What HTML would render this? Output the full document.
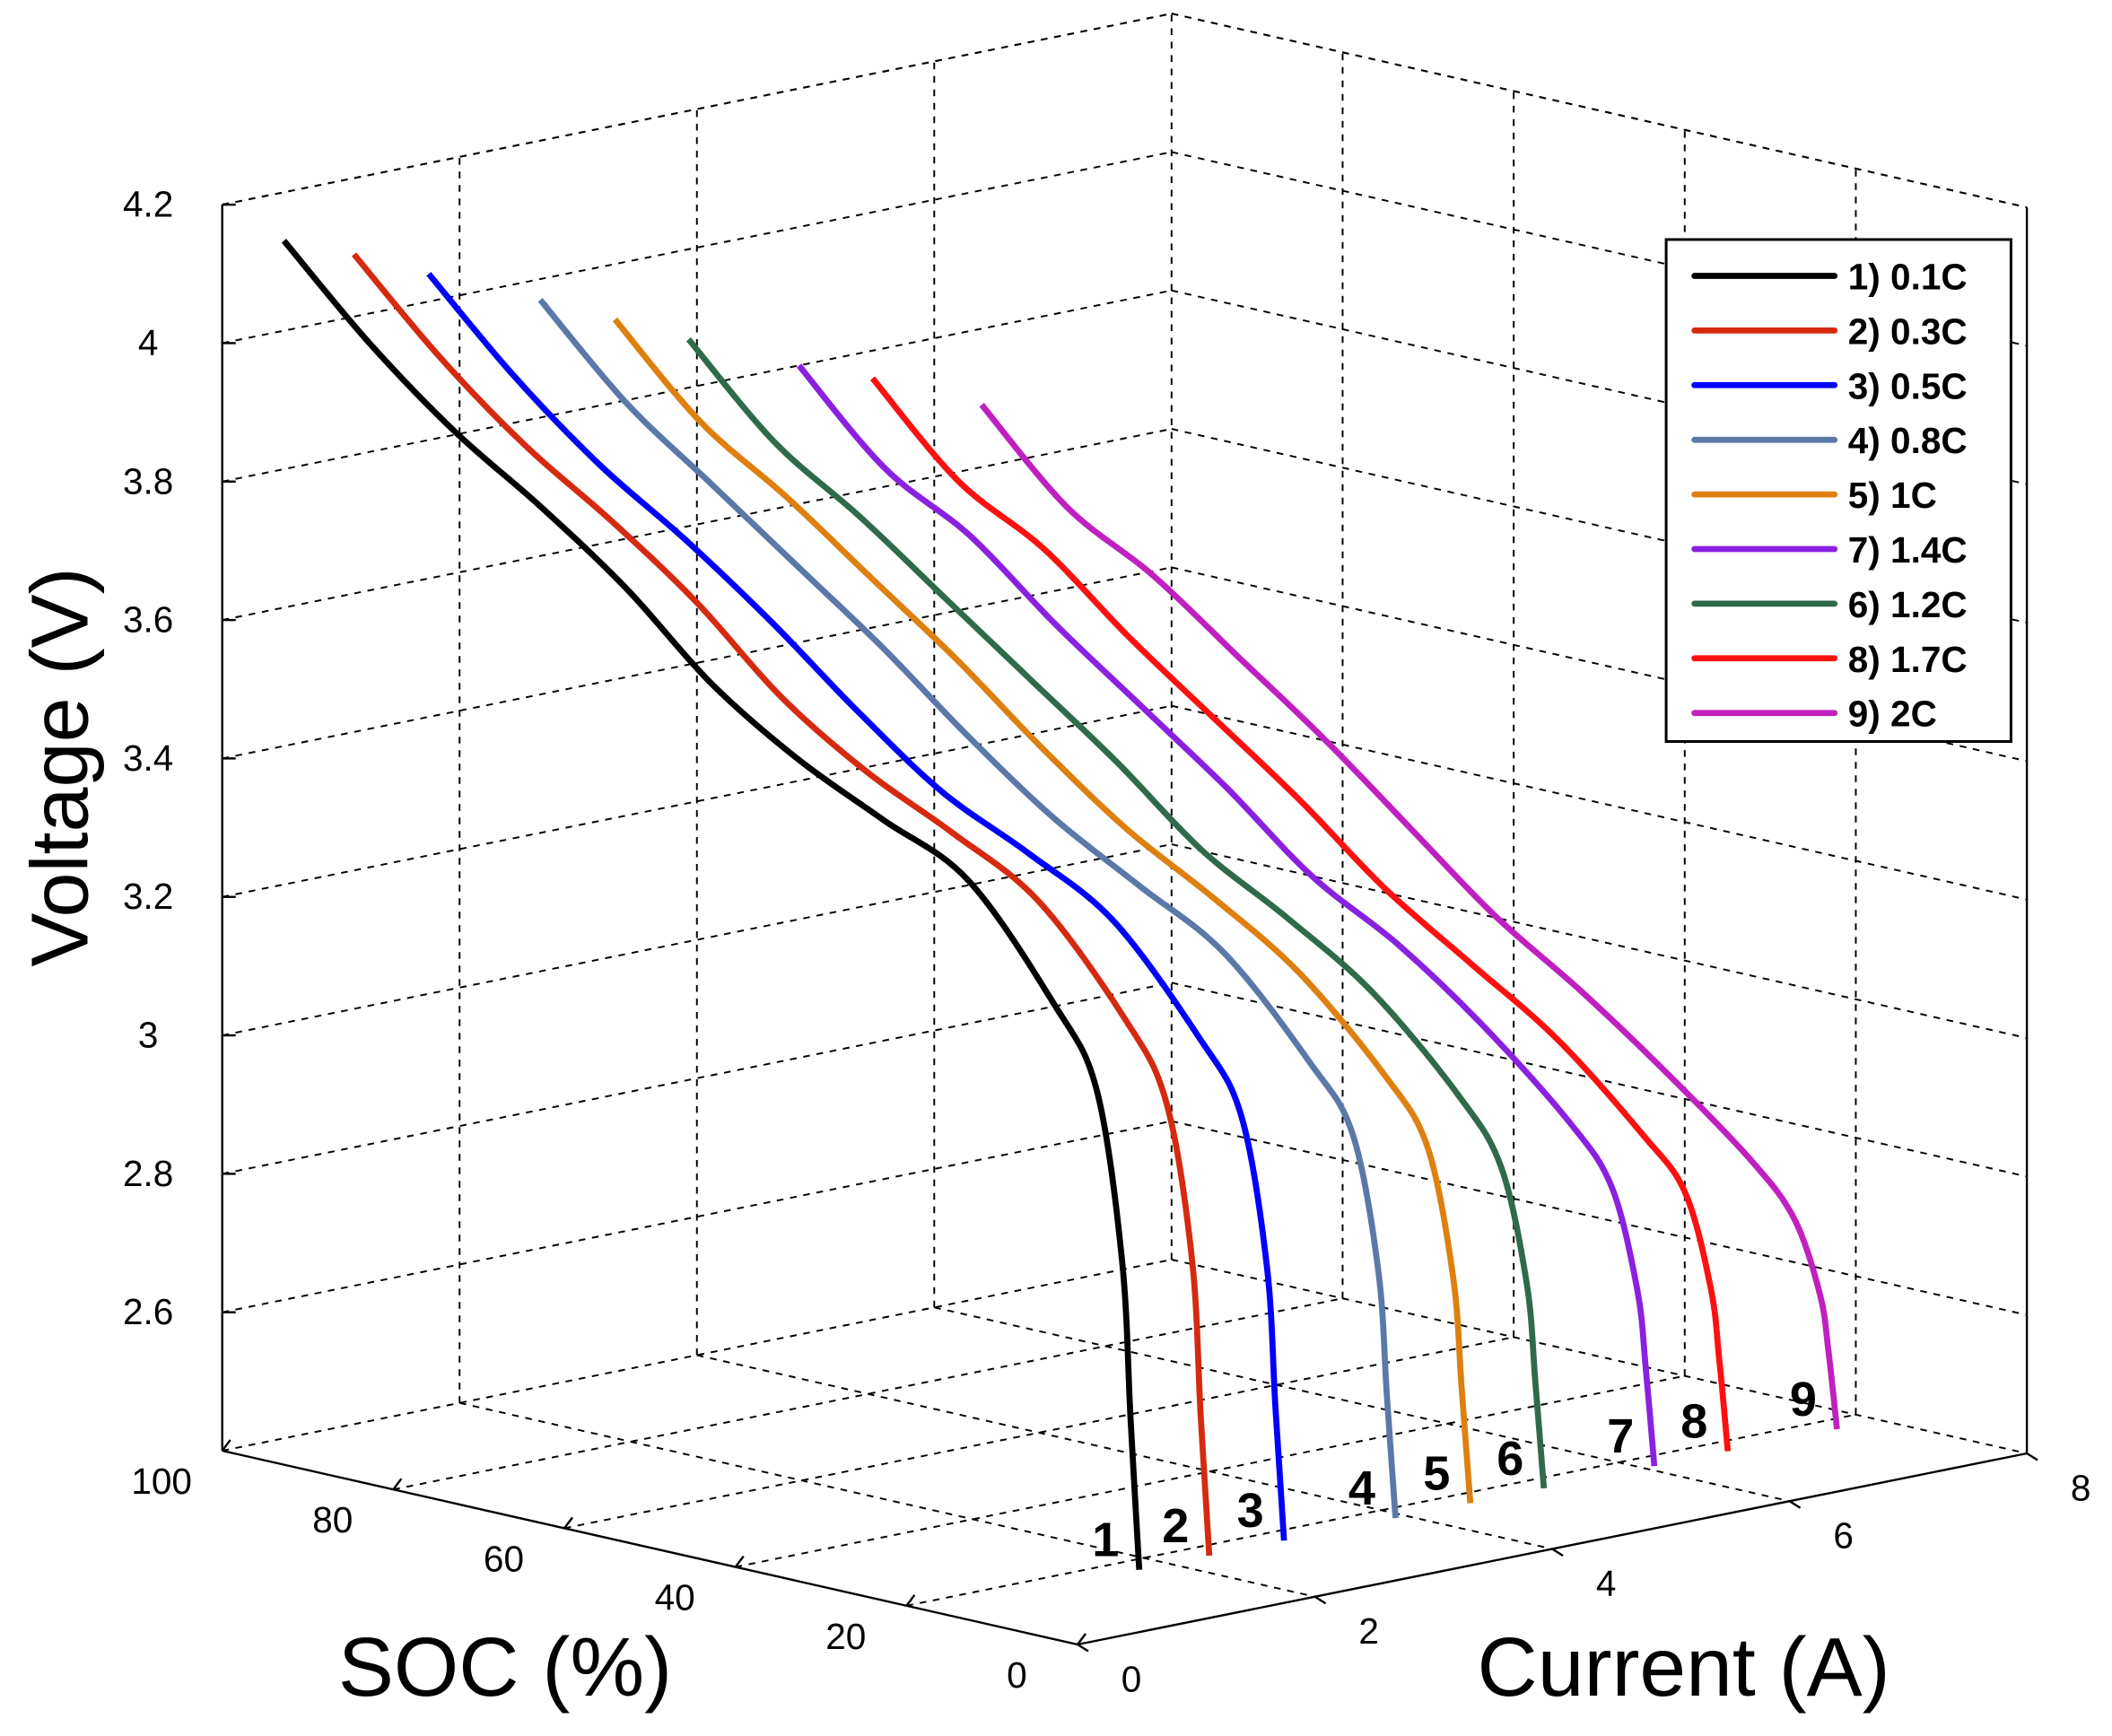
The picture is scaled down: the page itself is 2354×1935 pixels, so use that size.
<!DOCTYPE html>
<html><head><meta charset="utf-8"><style>
html,body{margin:0;padding:0;background:#fff}
svg{display:block}
text{font-family:"Liberation Sans",sans-serif}
</style></head><body>
<svg id="chart" width="2354" height="1935" viewBox="0 0 1568 1290" preserveAspectRatio="none" xmlns="http://www.w3.org/2000/svg">
<rect width="1568" height="1290" fill="#fff"/>
<g id="grid"></g>
<g id="axes"></g>
<g id="curves"></g>
<g id="labels"></g>
</svg>
<script>
const socPoints=[100,90,80,70,60,50,40,30,20,10,5,2,1,0];
const currents=[0.52,1.11,1.74,2.68,3.31,3.93,4.86,5.48,6.40];
const curveIds=['1','2','3','4','5','6','7','8','9'];
const v1=[4.13,4.01,3.91,3.83,3.74,3.63,3.55,3.49,3.43,3.28,3.17,2.93,2.70,2.49];
const v2=[4.09,3.97,3.87,3.79,3.70,3.59,3.51,3.45,3.38,3.24,3.13,2.91,2.69,2.49];
const v3=[4.04,3.92,3.82,3.74,3.65,3.55,3.46,3.40,3.33,3.19,3.09,2.88,2.68,2.49];
const v4=[3.97,3.85,3.76,3.67,3.58,3.48,3.39,3.32,3.25,3.12,3.03,2.84,2.66,2.49];
const v5=[3.92,3.80,3.72,3.63,3.54,3.44,3.35,3.28,3.20,3.08,2.99,2.81,2.65,2.49];
const v6=[3.87,3.75,3.67,3.58,3.49,3.40,3.30,3.23,3.15,3.03,2.94,2.78,2.64,2.49];
const v7=[3.80,3.68,3.61,3.51,3.42,3.33,3.23,3.16,3.07,2.96,2.88,2.74,2.63,2.49];
const v8=[3.76,3.64,3.57,3.47,3.38,3.29,3.19,3.11,3.03,2.92,2.85,2.72,2.62,2.49];
const v9=[3.69,3.57,3.50,3.41,3.32,3.22,3.12,3.04,2.95,2.85,2.78,2.68,2.60,2.49];
const voltageSeries=[v1,v2,v3,v4,v5,v6,v7,v8,v9];
const legendLabels=['1) 0.1C','2) 0.3C','3) 0.5C','4) 0.8C','5) 1C','7) 1.4C','6) 1.2C','8) 1.7C','9) 2C'];
const legendOrder=[0,1,2,3,4,6,5,7,8];
const vTicks=[2.6,2.8,3,3.2,3.4,3.6,3.8,4,4.2];
const vTickLabels=['2.6','2.8','3','3.2','3.4','3.6','3.8','4','4.2'];
const socTicks=[100,80,60,40,20,0];
const iTicks=[0,2,4,6,8];

const colors=['#000000','#d62a10','#0000ff','#5a78a8','#dd8010','#2f6a4a','#8a20e0','#ff1010','#c020c0'];
const NS='http://www.w3.org/2000/svg';
const VMIN=2.4,VMAX=4.2;
function P(soc,I,V){
  const d=100-soc;
  return [165+d*6.35+I*88.1, 1078+d*1.44-I*17.75-(V-VMIN)*514.4];
}
function mk(tag,attrs,parent){const e=document.createElementNS(NS,tag);for(const k in attrs)e.setAttribute(k,attrs[k]);parent.appendChild(e);return e;}
const grid=document.getElementById('grid'),axes=document.getElementById('axes'),curves=document.getElementById('curves'),labels=document.getElementById('labels');
function line(a,b,parent,dash,name){
  const e=mk('line',{x1:a[0],y1:a[1],x2:b[0],y2:b[1],stroke:'#000','stroke-width':dash?1.3:1.6,'stroke-dasharray':dash?'5 5':'none'},parent);
  
  
}
[2,4,6].forEach(I=>{line(P(100,I,VMIN),P(100,I,VMAX),grid,true,'grid-wall-left');line(P(100,I,VMIN),P(0,I,VMIN),grid,true,'grid-floor-current');});
[80,60,40,20].forEach(s=>{line(P(s,8,VMIN),P(s,8,VMAX),grid,true,'grid-wall-right');line(P(s,0,VMIN),P(s,8,VMIN),grid,true,'grid-floor-soc');});
vTicks.forEach(v=>{line(P(100,0,v),P(100,8,v),grid,true,'grid-v-left');line(P(100,8,v),P(0,8,v),grid,true,'grid-v-right');});
line(P(100,8,VMIN),P(100,8,VMAX),grid,true,'grid-back-corner');
line(P(100,0,VMAX),P(100,8,VMAX),grid,true,'grid-top-left');
line(P(100,8,VMAX),P(0,8,VMAX),grid,true,'grid-top-right');
line(P(100,0,VMIN),P(100,8,VMIN),grid,true,'grid-floor-back');
line(P(100,8,VMIN),P(0,8,VMIN),grid,true,'grid-floor-back-right');
line(P(100,0,VMIN),P(100,0,VMAX),axes,false,'voltage-axis');
line(P(100,0,VMIN),P(0,0,VMIN),axes,false,'soc-axis');
line(P(0,0,VMIN),P(0,8,VMIN),axes,false,'current-axis');
line(P(0,8,VMIN),P(0,8,VMAX),axes,false,'right-edge');
function txt(x,y,s,size,name,extra){
  const t=mk('text',Object.assign({x:x,y:y,'font-size':size,fill:'#000','text-anchor':'middle'},extra||{}),labels);
  t.textContent=s;
  
  
  return t;
}
vTicks.forEach((v,i)=>{const p=P(100,0,v);line(p,[p[0]+10,p[1]],axes,false,'v-tick');txt(p[0]-55,p[1]+9,vTickLabels[i],27,'voltage-tick-label');});
socTicks.forEach(s=>{const p=P(s,0,VMIN);line(p,[p[0]+6,p[1]-8],axes,false,'soc-tick');txt(p[0]-45,p[1]+32,String(s),27,'soc-tick-label');});
iTicks.forEach(I=>{const p=P(0,I,VMIN);line(p,[p[0]+8,p[1]+5],axes,false,'current-tick');txt(p[0]+40,p[1]+35,String(I),27,'current-tick-label');});
txt(65,570,'Voltage (V)',60,'voltage-axis-title',{transform:'rotate(-90 65 570)'});
txt(375,1260,'SOC (%)',62,'soc-axis-title');
txt(1250,1260,'Current (A)',62,'current-axis-title');
voltageSeries.forEach((vs,k)=>{
  const pts=vs.map((v,i)=>P(socPoints[i],currents[k],v));
  let d='M'+pts[0][0].toFixed(1)+','+pts[0][1].toFixed(1);
  for(let i=0;i<pts.length-1;i++){
    const p0=pts[Math.max(0,i-1)],p1=pts[i],p2=pts[i+1],p3=pts[Math.min(pts.length-1,i+2)];
    const c1=[p1[0]+(p2[0]-p0[0])/6,p1[1]+(p2[1]-p0[1])/6],c2=[p2[0]-(p3[0]-p1[0])/6,p2[1]-(p3[1]-p1[1])/6];
    d+=' C'+c1[0].toFixed(1)+','+c1[1].toFixed(1)+' '+c2[0].toFixed(1)+','+c2[1].toFixed(1)+' '+p2[0].toFixed(1)+','+p2[1].toFixed(1);
  }
  const e=mk('path',{d:d,fill:'none',stroke:colors[k],'stroke-width':4.5,'stroke-linejoin':'round'},curves);
  
  
  const end=pts[pts.length-1];
  txt(end[0]-25,end[1]-10,curveIds[k],36,'curve-label-'+curveIds[k],{'font-weight':'bold'});
});
const lg=mk('g',{},labels);


const lr=mk('rect',{x:1237,y:178,width:256,height:373,fill:'#fff',stroke:'#000','stroke-width':2},lg);


legendOrder.forEach((k,i)=>{
  const y=205+i*40.6;
  const l=mk('line',{x1:1258,y1:y,x2:1362,y2:y,stroke:colors[k],'stroke-width':4.5,'stroke-linecap':'round'},lg);
  
  
  const t=mk('text',{x:1372,y:y+10,'font-size':27,'font-weight':'bold',fill:'#000'},lg);
  t.textContent=legendLabels[i];
  
  
});
</script>
</body></html>
